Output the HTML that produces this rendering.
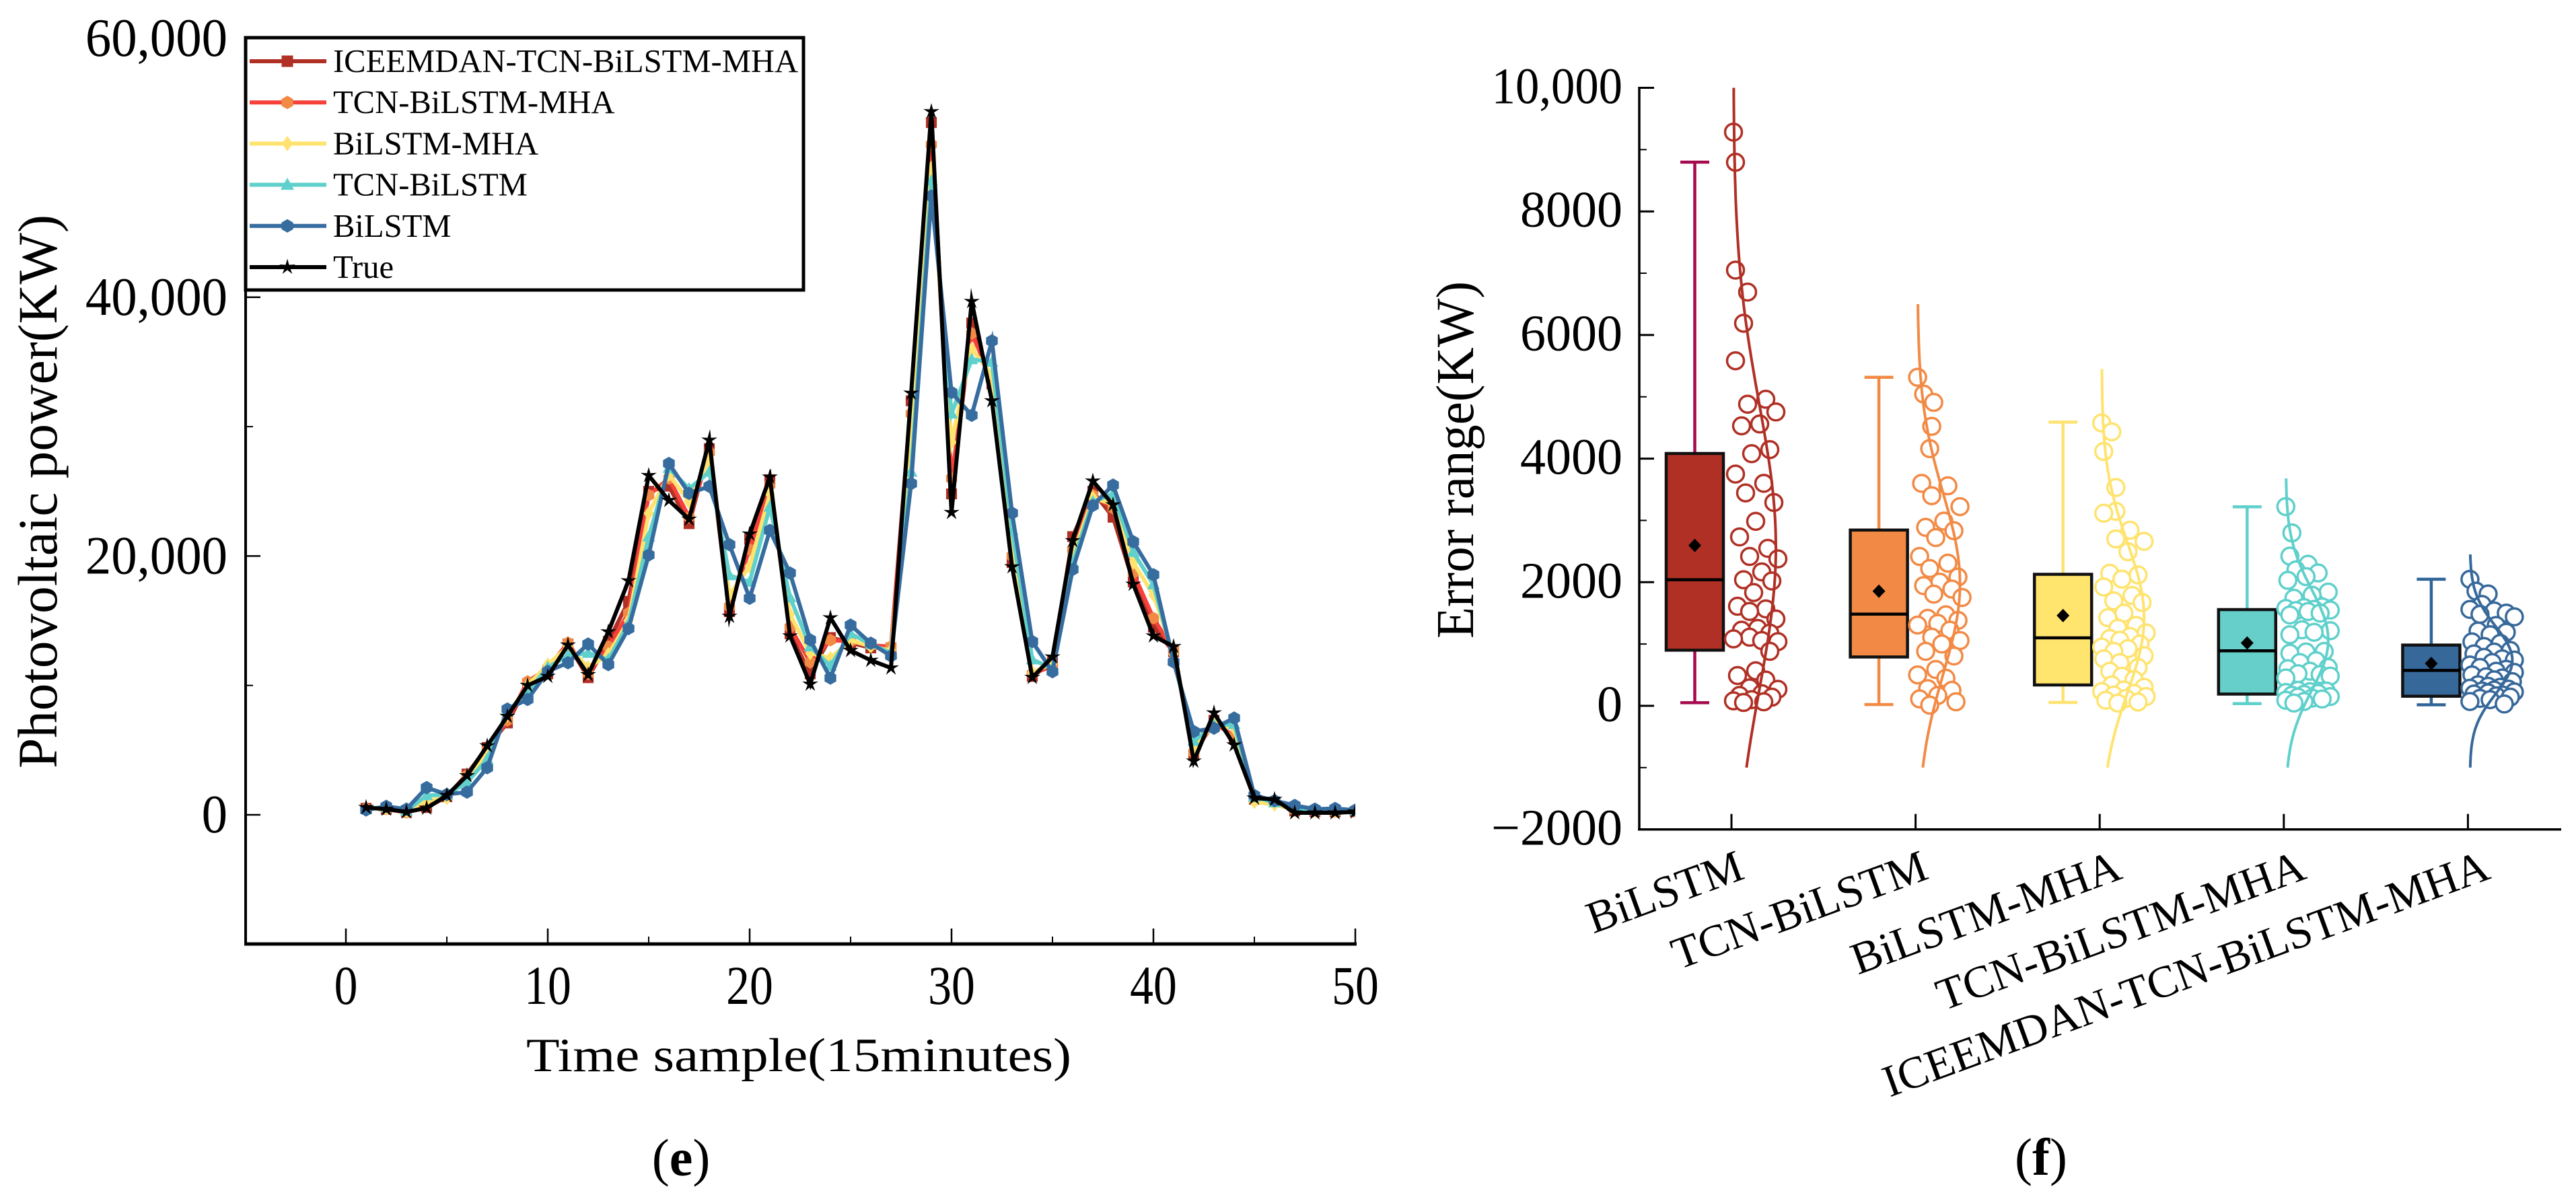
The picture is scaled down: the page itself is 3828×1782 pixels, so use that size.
<!DOCTYPE html>
<html lang="en">
<head>
<meta charset="utf-8">
<title>Photovoltaic power forecasts and error range</title>
<style>
  html, body { margin: 0; padding: 0; background: #fff; }
  svg { display: block; font-family: "Liberation Serif", "Times New Roman", serif; fill: #000; }
</style>
</head>
<body>
<svg id="fig" xmlns="http://www.w3.org/2000/svg" width="3828" height="1782" viewBox="0 0 3828 1782">
  <defs><clipPath id="plot-clip"><rect x="360" y="50" width="1654" height="1360"/></clipPath></defs>
  <rect x="0" y="0" width="3828" height="1782" fill="#fff"/>
  <g id="panel-e"></g>
  <g id="panel-f"></g>
  <text x="1012" y="1747" font-size="78" text-anchor="middle">(<tspan font-weight="bold">e</tspan>)</text>
  <text x="3033" y="1746" font-size="78" text-anchor="middle">(<tspan font-weight="bold">f</tspan>)</text>
</svg>
<script>
/* ---------- line chart data ---------- */
const sampleIndex = [1,2,3,4,5,6,7,8,9,10,11,12,13,14,15,16,17,18,19,20,21,22,23,24,25,26,27,28,29,30,31,32,33,34,35,36,37,38,39,40,41,42,43,44,45,46,47,48,49,50];
const iceemdanTcnBilstmMha = [500,430,200,560,1400,3150,5200,7100,10100,10900,13200,10600,13400,16500,25000,25400,22500,28300,15700,21300,25900,14000,10900,13700,13300,12900,12900,32000,53500,24800,38000,33300,19500,10700,11800,21500,25000,23000,18000,14500,12600,4600,7300,5900,1200,1000,300,250,230,240];
const tcnBilstmMha = [480,450,180,800,1380,3050,5000,7300,10300,11300,13300,10900,13000,15600,24700,26000,23000,28000,16100,20500,25500,14500,11800,13500,13400,13100,13000,31000,51800,26000,37200,33600,20000,10900,11500,20500,24700,23700,18700,15200,12700,4800,7100,6100,1100,950,350,280,240,260];
const bilstmMha = [450,480,270,1100,1300,2800,4700,7700,10000,11600,13000,11400,12400,15000,23300,26300,24200,27500,17000,19200,24800,15500,12500,12100,13500,13000,12700,28500,50000,28800,36000,34000,21000,11000,11700,20000,24500,24000,19500,17000,12400,5200,7000,6700,1000,800,400,300,280,300];
const tcnBilstm = [420,600,300,1500,1550,2500,4300,8000,9500,11400,12300,12500,12000,14800,21500,26800,25200,26500,18500,18000,23800,16800,13000,11500,14000,13200,12500,26500,49000,31000,35200,35000,22000,12000,11300,19500,24200,24800,20300,17800,12000,5700,6900,7000,1400,950,550,350,350,340];
const bilstm = [380,650,435,2100,1575,1760,3640,8170,8920,11080,11750,13200,11610,14400,20080,27150,24840,25380,20880,16740,21980,18680,13520,10570,14660,13260,12280,25600,47820,32640,30880,36630,23320,13390,11060,18960,23910,25480,21110,18550,11810,6440,6700,7480,1500,1090,725,435,490,360];
const trueValues = [570,435,228,518,1500,3025,5330,7610,10000,10700,13120,10830,14145,18090,26230,24300,22850,28960,15340,21700,26100,13830,10100,15230,12700,11940,11350,32590,54350,23370,39680,32000,19170,10620,12200,21190,25800,23960,17820,13830,13000,4150,7880,5400,1300,1190,155,155,155,228];
const lineSeriesNames = ["ICEEMDAN-TCN-BiLSTM-MHA","TCN-BiLSTM-MHA","BiLSTM-MHA","TCN-BiLSTM","BiLSTM","True"];
const lineXTicks = [0,10,20,30,40,50];
const lineXMinorTicks = [5,15,25,35,45];
const lineYTicks = [0,20000,40000,60000];
const lineYMinorTicks = [-10000,10000,30000,50000];
const lineYTickLabels = ["0","20,000","40,000","60,000"];

/* ---------- box chart data ---------- */
const boxCategories = ["BiLSTM","TCN-BiLSTM","BiLSTM-MHA","TCN-BiLSTM-MHA","ICEEMDAN-TCN-BiLSTM-MHA"];
const whiskerHigh = [8797,5316,4590,3220,2048];
const boxQ3 = [4083,2844,2128,1557,983];
const boxMedian = [2040,1483,1100,890,573];
const boxQ1 = [900,790,337,190,155];
const whiskerLow = [50,20,55,35,16];
const boxMean = [2595,1855,1460,1017,685];
const curveTop = [10000,6500,5450,3680,2450];
const curveBottom = -1000;
const errorsBilstm = [9283,8795,7050,6695,6190,5583,4960,4880,4755,4560,4530,4146,4080,3750,3600,3445,3290,2985,2733,2548,2417,2378,2167,2040,2020,1833,1611,1568,1527,1404,1252,1223,1176,1110,1083,1056,1039,882,566,490,417,290,267,196,167,140,100,80,65,54];
const errorsTcnBilstm = [5316,5044,4910,4522,4161,3600,3560,3400,3223,2988,2888,2833,2722,2417,2308,2221,2083,2000,1945,1889,1807,1753,1472,1416,1382,1334,1307,1223,1110,1056,1000,882,806,588,500,446,278,250,167,111,65,11];
const errorsBilstmMha = [4577,4433,4115,3533,3146,3116,2841,2700,2661,2493,2145,2117,2050,1923,1785,1698,1672,1500,1426,1300,1255,1180,1121,1089,1061,1000,950,925,880,811,760,700,620,560,479,424,337,300,256,230,200,174,150,120,90,61,44];
const errorsTcnBilstmMha = [3223,2798,2422,2290,2199,2150,2090,2030,1840,1790,1740,1600,1590,1575,1561,1550,1540,1525,1500,1470,1230,1215,1190,1150,880,871,850,730,700,620,600,560,520,506,480,450,250,240,229,215,200,185,170,150,140,125,110,90,70,45];
const errorsFull = [2047,1855,1810,1640,1560,1535,1500,1480,1440,1300,1210,1190,1150,1034,1010,960,895,870,840,784,760,740,700,660,620,590,560,540,500,470,450,420,390,340,316,300,285,270,255,240,225,210,190,175,160,140,120,100,70,30];
const boxYTicks = [-2000,0,2000,4000,6000,8000,10000];
const boxYMinorTicks = [-1000,1000,3000,5000,7000,9000];
const boxYTickLabels = ["\u22122000","0","2000","4000","6000","8000","10,000"];

/* ---------- styling and scales ---------- */
const lineColors = ["#b03025","#f5413a","#ffe36e","#5fd0cb","#376c9f","#000000"];
const markerColors = ["#b03025","#f28a45","#ffe36e","#5fd0cb","#376c9f","#000000"];
const boxFills = ["#b03025","#f28a45","#ffe46d","#66cfca","#37689a"];
const whiskerColors = ["#a5094e","#f28a45","#ffe36e","#5fd0cb","#2f6499"];
const curveColors = ["#b03025","#f28a45","#ffe36e","#5fd0cb","#37689a"];

const xLine = v => 514 + 30 * v;
const yLine = v => 1211 - 0.01923 * v;
const yBox = v => 1049 - 0.09185 * v;
const xBoxTick = i => 2573 + 273.6 * i;

const NS = "http://www.w3.org/2000/svg";
function mk(tag, attrs, parent) {
  const el = document.createElementNS(NS, tag);
  for (const k in attrs) el.setAttribute(k, attrs[k]);
  parent.appendChild(el);
  return el;
}
const panelE = document.getElementById("panel-e");
const panelF = document.getElementById("panel-f");

function markerPath(kind, cx, cy, r) {
  const pts = [];
  if (kind === 0) { return `M${cx-r*0.85} ${cy-r*0.85}h${r*1.7}v${r*1.7}h${-r*1.7}z`; }
  if (kind === 1 || kind === 4) {
    for (let i = 0; i < 6; i++) { const a = Math.PI / 3 * i + Math.PI / 6; pts.push([cx + r * Math.cos(a), cy + r * Math.sin(a)]); }
  } else if (kind === 2) {
    pts.push([cx, cy - r * 1.15], [cx + r * 0.8, cy], [cx, cy + r * 1.15], [cx - r * 0.8, cy]);
  } else if (kind === 3) {
    pts.push([cx, cy - r * 1.05], [cx + r, cy + r * 0.75], [cx - r, cy + r * 0.75]);
  } else {
    for (let i = 0; i < 10; i++) {
      const a = -Math.PI / 2 + Math.PI / 5 * i, rr = i % 2 ? r * 0.42 : r * 1.25;
      pts.push([cx + rr * Math.cos(a), cy + rr * Math.sin(a)]);
    }
  }
  return "M" + pts.map(p => p[0].toFixed(1) + " " + p[1].toFixed(1)).join("L") + "Z";
}

/* ---------- line chart ---------- */
const lineSeries = [iceemdanTcnBilstmMha, tcnBilstmMha, bilstmMha, tcnBilstm, bilstm, trueValues];
const markerRadius = [9.5, 9.5, 9.5, 9.5, 10, 10];
const marks = mk("g", {"clip-path": "url(#plot-clip)"}, panelE);


lineSeries.forEach((vals, s) => {
  const g = mk("g", {}, marks);
  
  
  const d = vals.map((v, i) => (i ? "L" : "M") + xLine(sampleIndex[i]).toFixed(1) + " " + yLine(v).toFixed(1)).join("");
  const path = mk("path", {d: d, fill: "none", stroke: lineColors[s], "stroke-width": 6, "stroke-linejoin": "miter", "stroke-miterlimit": 10}, g);
  
  
  vals.forEach((v, i) => {
    const m = mk("path", {d: markerPath(s, xLine(sampleIndex[i]), yLine(v), markerRadius[s]), fill: markerColors[s]}, g);
    
    
  });
});

const axisE = mk("g", {stroke: "#000", fill: "none"}, panelE);


const spineBottom = mk("line", {x1: 363, x2: 2016, y1: 1403, y2: 1403, "stroke-width": 5}, axisE);


const spineLeft = mk("line", {x1: 365, x2: 365, y1: 57, y2: 1405, "stroke-width": 4}, axisE);


lineXTicks.forEach(v => {
  const t = mk("line", {x1: xLine(v), x2: xLine(v), y1: 1403, y2: 1380, "stroke-width": 2.5}, axisE);
  
  
  const lab = mk("text", {transform: `translate(${xLine(v)},1492) scale(0.85,1)`, "font-size": 82, "text-anchor": "middle", fill: "#000", stroke: "none"}, panelE);
  lab.textContent = String(v);
  
  
});
lineXMinorTicks.forEach(v => {
  const t = mk("line", {x1: xLine(v), x2: xLine(v), y1: 1403, y2: 1392, "stroke-width": 2}, axisE);
  
  
});
lineYTicks.forEach((v, i) => {
  const t = mk("line", {x1: 365, x2: 387, y1: yLine(v), y2: yLine(v), "stroke-width": 2.5}, axisE);
  
  
  const lab = mk("text", {transform: `translate(338,${yLine(v) + 26}) scale(0.96,1)`, "font-size": 80, "text-anchor": "end"}, panelE);
  lab.textContent = lineYTickLabels[i];
  
  
});
lineYMinorTicks.forEach(v => {
  const t = mk("line", {x1: 365, x2: 376, y1: yLine(v), y2: yLine(v), "stroke-width": 2}, axisE);
  
  
});
const xTitleE = mk("text", {x: 782, y: 1592, "font-size": 71, textLength: 810, lengthAdjust: "spacingAndGlyphs"}, panelE);
xTitleE.textContent = "Time sample(15minutes)";


const yTitleE = mk("text", {transform: "translate(84,1142) rotate(-90)", "font-size": 83, textLength: 823, lengthAdjust: "spacingAndGlyphs"}, panelE);
yTitleE.textContent = "Photovoltaic power(KW)";



/* legend */
const legend = mk("g", {}, panelE);


const legendBox = mk("rect", {x: 365, y: 56, width: 829, height: 375, fill: "#fff", stroke: "#000", "stroke-width": 5}, legend);


lineSeriesNames.forEach((name, i) => {
  const ly = 91 + 61.2 * i;
  const entry = mk("g", {}, legend);
  
  
  const ln = mk("line", {x1: 371, x2: 485, y1: ly, y2: ly, stroke: lineColors[i], "stroke-width": 6}, entry);
  
  
  const mm = mk("path", {d: markerPath(i, 427, ly, 10), fill: markerColors[i]}, entry);
  
  
  const tx = mk("text", {x: 495, y: ly + 16, "font-size": 48.6}, entry);
  tx.textContent = name;
  
  
});

/* ---------- box chart ---------- */
const boxOffset = -54.5, boxWidth = 85, capWidth = 43, circleR = 12.5;
const groups = [errorsBilstm, errorsTcnBilstm, errorsBilstmMha, errorsTcnBilstmMha, errorsFull];

function groupStats(values) {
  const n = values.length;
  const mean = values.reduce((a, b) => a + b, 0) / n;
  const sd = Math.sqrt(values.reduce((a, b) => a + (b - mean) * (b - mean), 0) / (n - 1));
  return {mean: mean, sd: sd};
}
const normalShape = (u, st) => Math.exp(-0.5 * Math.pow((u - st.mean) / st.sd, 2));

/* swarm layout: each point is pushed sideways inside the density envelope, opaque circles may overlap */
function swarm(values, st, minDist, maxOff) {
  const placed = [];
  values.forEach((v, i) => {
    const py = yBox(v);
    const width = maxOff * Math.min(1, normalShape(v, st) * 1.7);
    const pref = ((i * 0.618) % 1) * width;
    const cands = [];
    for (let c = 0; c <= maxOff; c += 3) cands.push(c);
    cands.sort((a, b) => Math.abs(a - pref) - Math.abs(b - pref));
    let best = cands[0], bestGap = -1;
    for (const c of cands) {
      const gap = placed.reduce((m, p) => Math.min(m, Math.hypot(p.off - c, p.py - py)), 1e9);
      if (gap >= minDist) { best = c; bestGap = gap; break; }
      if (gap > bestGap) { best = c; bestGap = gap; }
    }
    placed.push({off: best, py: py});
  });
  return placed;
}

boxCategories.forEach((name, i) => {
  const tick = xBoxTick(i), cx = tick + boxOffset;
  const g = mk("g", {}, panelF);
  
  

  const whisk = mk("path", {d: `M${cx} ${yBox(whiskerHigh[i])}V${yBox(boxQ3[i])}M${cx} ${yBox(boxQ1[i])}V${yBox(whiskerLow[i])}M${cx-capWidth/2} ${yBox(whiskerHigh[i])}h${capWidth}M${cx-capWidth/2} ${yBox(whiskerLow[i])}h${capWidth}`, fill: "none", stroke: whiskerColors[i], "stroke-width": 4.5}, g);
  
  
  const rect = mk("rect", {x: cx - boxWidth / 2, y: yBox(boxQ3[i]), width: boxWidth, height: yBox(boxQ1[i]) - yBox(boxQ3[i]), fill: boxFills[i], stroke: "#111", "stroke-width": 4.5}, g);
  
  
  const med = mk("line", {x1: cx - boxWidth / 2, x2: cx + boxWidth / 2, y1: yBox(boxMedian[i]), y2: yBox(boxMedian[i]), stroke: "#000", "stroke-width": 4.5}, g);
  
  
  const my = yBox(boxMean[i]);
  const dia = mk("path", {d: `M${cx} ${my-10}L${cx+9.5} ${my}L${cx} ${my+10}L${cx-9.5} ${my}Z`, fill: "#000"}, g);
  
  

  const base = tick + 3;
  const st = groupStats(groups[i]);
  swarm(groups[i], st, 18, 68).forEach(p => {
    const c = mk("circle", {cx: base + p.off, cy: p.py, r: circleR, fill: "#fff", stroke: curveColors[i], "stroke-width": 3.5}, g);
    
    
  });
  let cd = "";
  for (let k = 0; k <= 90; k++) {
    const u = curveBottom + (curveTop[i] - curveBottom) * k / 90;
    cd += (k ? "L" : "M") + (base + 63 * normalShape(u, st)).toFixed(1) + " " + yBox(u).toFixed(1);
  }
  const cp = mk("path", {d: cd, fill: "none", stroke: curveColors[i], "stroke-width": 4}, g);
  
  
});

const axisF = mk("g", {stroke: "#000", fill: "none"}, panelF);


const fLeft = mk("line", {x1: 2436, x2: 2436, y1: yBox(10000) - 1.5, y2: yBox(-2000) + 1.5, "stroke-width": 3.5}, axisF);


const fBottom = mk("line", {x1: 2434, x2: 3806, y1: yBox(-2000), y2: yBox(-2000), "stroke-width": 3.5}, axisF);


boxYTicks.forEach((v, i) => {
  const t = mk("line", {x1: 2436, x2: 2458, y1: yBox(v), y2: yBox(v), "stroke-width": 3}, axisF);
  
  
  const sx = boxYTickLabels[i].indexOf(",") > -1 ? 0.93 : 1;
  const lab = mk("text", {transform: `translate(2411,${yBox(v) + 23}) scale(${sx},1)`, "font-size": 76, "text-anchor": "end"}, panelF);
  lab.textContent = boxYTickLabels[i];
  
  
});
boxYMinorTicks.forEach(v => {
  const t = mk("line", {x1: 2436, x2: 2447, y1: yBox(v), y2: yBox(v), "stroke-width": 2}, axisF);
  
  
});
boxCategories.forEach((name, i) => {
  const tick = xBoxTick(i);
  const t = mk("line", {x1: tick, x2: tick, y1: yBox(-2000), y2: yBox(-2000) - 23, "stroke-width": 3}, axisF);
  
  
  const nudge = name.endsWith("A") ? 36 : 22;
  const lab = mk("text", {transform: `translate(${tick + nudge},1305) rotate(-20)`, "font-size": 67, "text-anchor": "end"}, panelF);
  lab.textContent = name;
  
  
});
const yTitleF = mk("text", {transform: "translate(2189,949) rotate(-90)", "font-size": 79, textLength: 531, lengthAdjust: "spacingAndGlyphs"}, panelF);
yTitleF.textContent = "Error range(KW)";


</script>
</body>
</html>
